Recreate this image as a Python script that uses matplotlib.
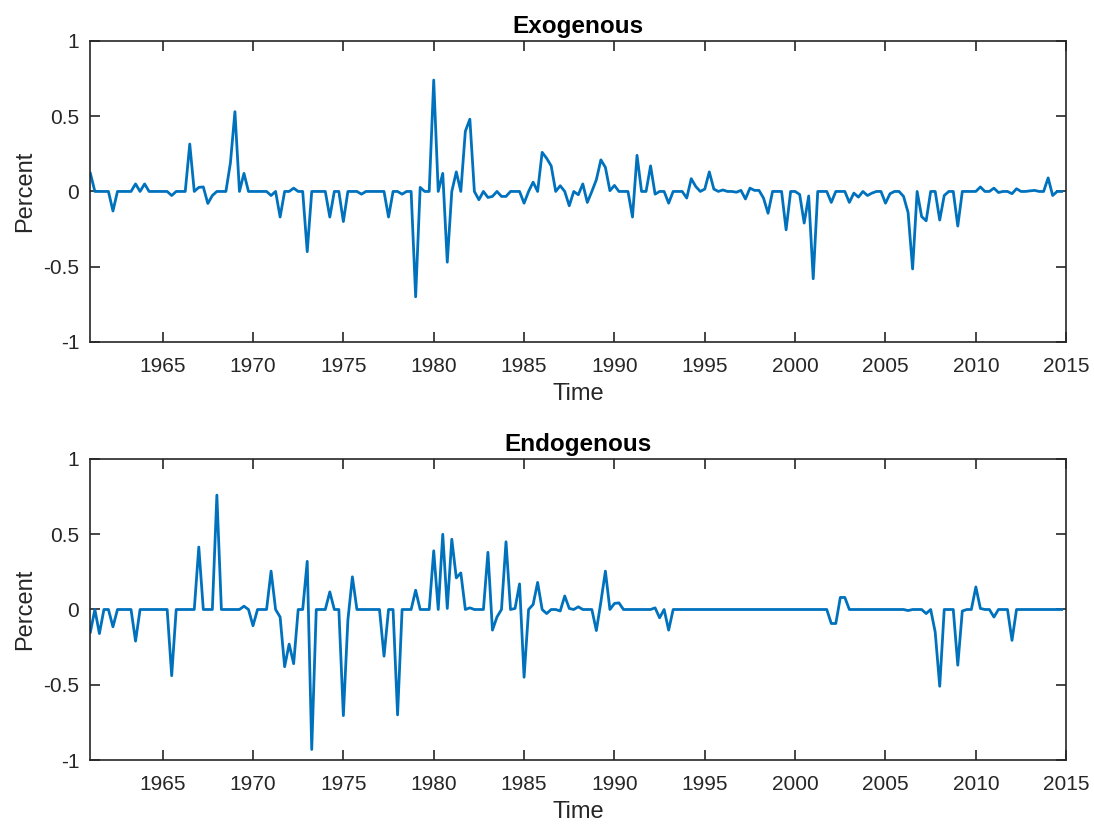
import numpy as np
import matplotlib
matplotlib.use("Agg")
import matplotlib.pyplot as plt

###############################################################################
# Quarterly shocks, 1961Q1 .. 2014Q4 (one row of the list = one year)
exogenous = [
    0.12, 0, 0, 0,            # 1961
    0, -0.13, 0, 0,           # 1962
    0, 0, 0.05, 0,            # 1963
    0.05, 0, 0, 0,            # 1964
    0, 0, -0.027, 0,          # 1965
    0, 0, 0.315, 0,           # 1966
    0.027, 0.03, -0.08, -0.027,  # 1967
    0, 0, 0, 0.19,            # 1968
    0.53, 0, 0.12, 0,         # 1969
    0, 0, 0, 0,               # 1970
    -0.027, 0, -0.17, 0,      # 1971
    0, 0.022, 0, 0,           # 1972
    -0.40, 0, 0, 0,           # 1973
    0, -0.17, 0, 0,           # 1974
    -0.20, 0, 0, 0,           # 1975
    -0.018, 0, 0, 0,          # 1976
    0, 0, -0.17, 0,           # 1977
    0, -0.018, 0, 0,          # 1978
    -0.70, 0.027, 0, 0,       # 1979
    0.74, 0, 0.12, -0.47,     # 1980
    0, 0.13, 0, 0.40,         # 1981
    0.48, 0, -0.055, 0,       # 1982
    -0.04, -0.033, 0, -0.033,  # 1983
    -0.033, 0, 0, 0,          # 1984
    -0.078, 0, 0.062, 0,      # 1985
    0.26, 0.22, 0.17, 0,      # 1986
    0.038, 0, -0.095, 0,      # 1987
    -0.022, 0.05, -0.073, 0,  # 1988
    0.078, 0.21, 0.16, 0.005,  # 1989
    0.04, 0, 0, 0,            # 1990
    -0.17, 0.24, 0, 0,        # 1991
    0.17, -0.018, 0, 0,       # 1992
    -0.078, 0, 0, 0,          # 1993
    -0.044, 0.085, 0.033, 0,  # 1994
    0.016, 0.13, 0.016, 0,    # 1995
    0.01, 0, 0, -0.005,       # 1996
    0.007, -0.05, 0.022, 0.007,  # 1997
    0.007, -0.044, -0.145, 0,  # 1998
    0, 0, -0.255, 0,          # 1999
    0, -0.02, -0.21, -0.03,   # 2000
    -0.58, 0, 0, 0,           # 2001
    -0.073, 0, 0, 0,          # 2002
    -0.073, -0.011, -0.038, 0,  # 2003
    -0.027, -0.011, 0, 0,     # 2004
    -0.078, -0.015, 0, 0,     # 2005
    -0.033, -0.14, -0.515, 0,  # 2006
    -0.167, -0.195, 0, 0,     # 2007
    -0.19, -0.027, 0, 0,      # 2008
    -0.23, 0, 0, 0,           # 2009
    0, 0.03, 0, 0,            # 2010
    0.022, -0.007, 0, 0,      # 2011
    -0.015, 0.018, 0, 0,      # 2012
    0.004, 0.007, 0, 0,       # 2013
    0.09, -0.027, 0, 0,       # 2014
]

endogenous = [
    -0.15, 0, -0.16, 0,       # 1961
    0, -0.115, 0, 0,          # 1962
    0, 0, -0.21, 0,           # 1963
    0, 0, 0, 0,               # 1964
    0, 0, -0.44, 0,           # 1965
    0, 0, 0, 0,               # 1966
    0.415, 0, 0, 0,           # 1967
    0.76, 0, 0, 0,            # 1968
    0, 0, 0.022, 0,           # 1969
    -0.108, 0, 0, 0,          # 1970
    0.255, 0, -0.05, -0.38,   # 1971
    -0.23, -0.36, 0, 0,       # 1972
    0.32, -0.93, 0, 0,        # 1973
    0, 0.117, 0, 0,           # 1974
    -0.705, -0.07, 0.217, 0,  # 1975
    0, 0, 0, 0,               # 1976
    0, -0.31, 0, 0,           # 1977
    -0.70, 0, 0, 0,           # 1978
    0.128, 0, 0, 0,           # 1979
    0.39, 0, 0.50, 0.007,     # 1980
    0.467, 0.21, 0.243, 0,    # 1981
    0.011, 0, 0, 0,           # 1982
    0.38, -0.137, -0.05, 0,   # 1983
    0.45, 0, 0.007, 0.17,     # 1984
    -0.45, 0, 0.033, 0.18,    # 1985
    0, -0.027, 0, 0,          # 1986
    -0.01, 0.09, 0.007, 0,    # 1987
    0.018, 0, 0, 0,           # 1988
    -0.14, 0.05, 0.255, 0,    # 1989
    0.04, 0.044, 0, 0,        # 1990
    0, 0, 0, 0,               # 1991
    0, 0.011, -0.055, 0,      # 1992
    -0.137, 0, 0, 0,          # 1993
    0, 0, 0, 0,               # 1994
    0, 0, 0, 0,               # 1995
    0, 0, 0, 0,               # 1996
    0, 0, 0, 0,               # 1997
    0, 0, 0, 0,               # 1998
    0, 0, 0, 0,               # 1999
    0, 0, 0, 0,               # 2000
    0, 0, 0, 0,               # 2001
    -0.093, -0.093, 0.08, 0.08,  # 2002
    0, 0, 0, 0,               # 2003
    0, 0, 0, 0,               # 2004
    0, 0, 0, 0,               # 2005
    0, -0.007, 0, 0,          # 2006
    0, -0.027, 0, -0.15,      # 2007
    -0.51, 0, 0, 0,           # 2008
    -0.37, -0.01, 0, 0,       # 2009
    0.15, 0.007, 0, 0,        # 2010
    -0.05, 0, 0, 0,           # 2011
    -0.205, 0, 0, 0,          # 2012
    0, 0, 0, 0,               # 2013
    0, 0, 0, 0,               # 2014
]

titles = ["Exogenous", "Endogenous"]
year_ticks = [1965, 1970, 1975, 1980, 1985, 1990, 1995, 2000, 2005, 2010, 2015]
pct_ticks = [-1, -0.5, 0, 0.5, 1]
pct_labels = ["-1", "-0.5", "0", "0.5", "1"]

###############################################################################
plt.rcParams["font.family"] = ["Liberation Sans", "DejaVu Sans"]
ink = "#262626"
line_color = "#0072BD"

fig = plt.figure(figsize=(10.94, 8.27), dpi=100)
rects = [[0.0826, 0.5865, 0.892, 0.364],
         [0.0826, 0.0810, 0.892, 0.364]]

for rect, title, series in zip(rects, titles, [exogenous, endogenous]):
    ax = fig.add_axes(rect)
    time = 1961 + np.arange(len(series)) / 4.0
    ax.plot(time, series, color=line_color, linewidth=2.0)

    ax.set_xlim(1961, 2015)
    ax.set_ylim(-1, 1)
    ax.set_xticks(year_ticks)
    ax.set_xticklabels([str(y) for y in year_ticks])
    ax.set_yticks(pct_ticks)
    ax.set_yticklabels(pct_labels)

    ax.tick_params(direction="in", length=7, width=1.2, colors=ink,
                   labelsize=15, top=True, right=True)
    ax.tick_params(axis="x", pad=11)
    ax.tick_params(axis="y", pad=8)
    for spine in ax.spines.values():
        spine.set_color(ink)
        spine.set_linewidth(1.2)

    ax.set_title(title, fontsize=17.5, fontweight="bold", color="black", pad=6)
    ax.set_xlabel("Time", fontsize=17, color=ink)
    ax.set_ylabel("Percent", fontsize=17, color=ink)
    ax.xaxis.set_label_coords(0.5, -0.137)
    ax.yaxis.set_label_coords(-0.056, 0.5)

fig.savefig("out.png", dpi=100, facecolor="white")
